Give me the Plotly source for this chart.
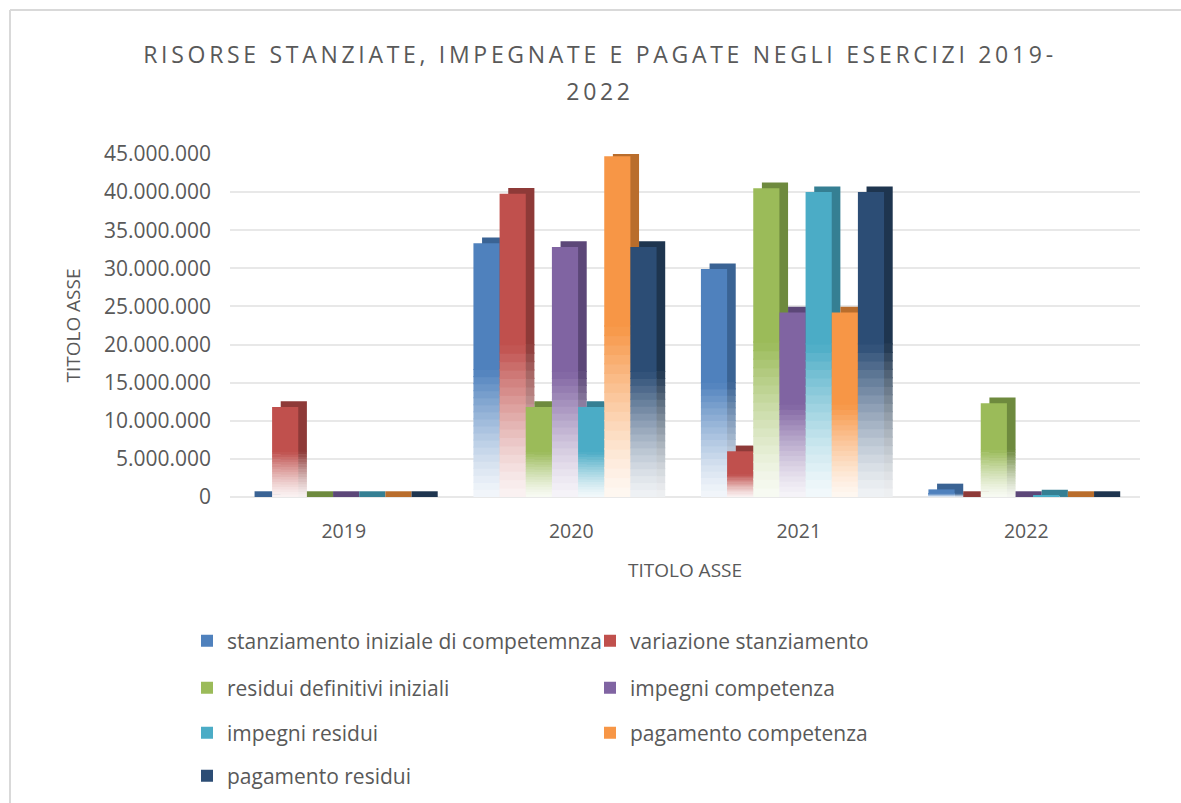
import plotly.graph_objects as go

# ---- data ----
years = ["2019", "2020", "2021", "2022"]
series_names = [
    "stanziamento iniziale di competemnza",
    "variazione stanziamento",
    "residui definitivi iniziali",
    "impegni competenza",
    "impegni residui",
    "pagamento competenza",
    "pagamento residui",
]
stanziamento_iniziale = [0, 33300000, 29900000, 1000000]
variazione_stanziamento = [11800000, 39800000, 6000000, 0]
residui_definitivi_iniziali = [0, 11800000, 40500000, 12300000]
impegni_competenza = [0, 32800000, 24200000, 0]
impegni_residui = [0, 11800000, 40000000, 200000]
pagamento_competenza = [0, 44700000, 24200000, 0]
pagamento_residui = [0, 32800000, 40000000, 0]
tick_values = [0, 5000000, 10000000, 15000000, 20000000, 25000000, 30000000, 35000000, 40000000, 45000000]
tick_labels = ["0", "5.000.000", "10.000.000", "15.000.000", "20.000.000",
               "25.000.000", "30.000.000", "35.000.000", "40.000.000", "45.000.000"]

values = [stanziamento_iniziale, variazione_stanziamento, residui_definitivi_iniziali,
          impegni_competenza, impegni_residui, pagamento_competenza, pagamento_residui]
colors = ["#4F81BD", "#C0504D", "#9BBB59", "#8064A2", "#4BACC6", "#F79646", "#2C4D75"]
side_colors = ["#3A6394", "#8E3A38", "#6E8A3E", "#5C4778", "#357F93", "#B96D2C", "#1E354F"]


def hex2rgb(h):
    h = h.lstrip("#")
    return tuple(int(h[i:i + 2], 16) for i in (0, 2, 4))


def blend(h, t):
    r, g, b = hex2rgb(h)
    return "rgb(%d,%d,%d)" % (round(255 + (r - 255) * t), round(255 + (g - 255) * t),
                              round(255 + (b - 255) * t))


# pixel geometry of the plot area
L, R, T, B = 230, 1140, 154, 497
PW, PH = R - L, B - T

# legend rows (two items per row, each row its own legend box)
legend_rows = [0, 0, 1, 1, 2, 2, 3]
row_px = [641, 688, 733, 776]
legend_ids = ["legend", "legend2", "legend3", "legend4"]

fig = go.Figure()

W = 0.115          # bar width (category units)
D = 0.038          # depth shift (category units)
DY = 750000        # depth shift (value units)
START = -0.43
NSEG = 18          # gradient segments in bottom part
FADE = 0.5


def ramp(k):
    return 0.07 + 0.93 * ((k + 0.5) / NSEG) ** 1.3


for i, (name, vals, col, scol) in enumerate(zip(series_names, values, colors, side_colors)):
    off = START + i * W
    lg = legend_ids[legend_rows[i]]
    # ---- back copy (gives side + top faces) ----
    fig.add_trace(go.Bar(
        x=years, y=[v + DY - FADE * v for v in vals],
        base=[FADE * v for v in vals], offset=off + D, width=W,
        marker=dict(color=scol, line=dict(width=0)), showlegend=False,
        legendgroup=name, legend=lg, hoverinfo="skip"))
    for k in range(NSEG):
        f0 = FADE * k / NSEG
        f1 = FADE * (k + 1) / NSEG
        fig.add_trace(go.Bar(
            x=years, y=[(f1 - f0) * v * 1.15 for v in vals], base=[f0 * v for v in vals],
            offset=off + D, width=W,
            marker=dict(color=blend(scol, ramp(k)), line=dict(width=0)), showlegend=False,
            legendgroup=name, legend=lg, hoverinfo="skip"))
    # ---- front face ----
    for k in range(NSEG):
        f0 = FADE * k / NSEG
        f1 = FADE * (k + 1) / NSEG
        fig.add_trace(go.Bar(
            x=years, y=[(f1 - f0) * v * 1.15 for v in vals], base=[f0 * v for v in vals],
            offset=off, width=W,
            marker=dict(color=blend(col, ramp(k)), line=dict(width=0)), showlegend=False,
            legendgroup=name, legend=lg, hoverinfo="skip"))
    fig.add_trace(go.Bar(
        x=years, y=[(1 - FADE) * v for v in vals], base=[FADE * v for v in vals],
        offset=off, width=W, name=name,
        marker=dict(color=col, line=dict(width=0)), showlegend=True,
        legendgroup=name, legend=lg))

FONT = "'Open Sans', sans-serif"
GREY = "#595959"

legend_common = dict(orientation="h", xanchor="left", yanchor="middle",
                     entrywidth=358, entrywidthmode="pixels", bgcolor="rgba(0,0,0,0)",
                     font=dict(size=21, color=GREY, family=FONT), traceorder="normal")
legend_layout = {}
for lid, py in zip(legend_ids, row_px):
    legend_layout[lid] = dict(legend_common, x=(187 - L) / PW, y=(B - py) / PH)

SP = "<span style='letter-spacing:3.7px;font-size:23px'>"
title_text = (SP + "RISORSE STANZIATE, IMPEGNATE E PAGATE NEGLI ESERCIZI 2019-</span><br>"
              + SP + "2022</span>")

fig.update_layout(
    width=1181, height=803,
    barmode="overlay",
    paper_bgcolor="white", plot_bgcolor="white",
    margin=dict(l=L, r=1181 - R, t=T, b=803 - B, autoexpand=False),
    font=dict(family=FONT, color=GREY),
    title=dict(text=title_text,
               x=600 / 1181, xanchor="center", y=1 - 63 / 803, yanchor="middle", xref="container",
               yref="container", font=dict(size=28.5, color=GREY, family=FONT)),
    xaxis=dict(type="category", showgrid=False, showline=False, zeroline=False,
               ticks="", tickfont=dict(size=19.5, color=GREY), ticklabelstandoff=20,
               title=dict(text="TITOLO ASSE", font=dict(size=19, color=GREY), standoff=21)),
    yaxis=dict(range=[0, 45000000], tickvals=tick_values, ticktext=tick_labels,
               showgrid=True, gridcolor="#E8E8E8", gridwidth=2, zeroline=True,
               zerolinecolor="#E8E8E8", zerolinewidth=2, showline=False, ticks="",
               tickfont=dict(size=21, color=GREY), ticklabelstandoff=18,
               title=dict(text="TITOLO ASSE", font=dict(size=19, color=GREY), standoff=18)),
    showlegend=True,
    **legend_layout,
)

# chart frame lines (light grey border, as in the reference crop)
fig.add_shape(type="line", xref="paper", yref="paper", x0=(10 - L) / PW, x1=(10 - L) / PW,
              y0=(B - 10) / PH, y1=(B - 803) / PH, line=dict(color="#D9D9D9", width=2))
fig.add_shape(type="line", xref="paper", yref="paper", x0=(10 - L) / PW, x1=(1181 - L) / PW,
              y0=(B - 10) / PH, y1=(B - 10) / PH, line=dict(color="#D9D9D9", width=2))

fig.write_html("out.html", config={"displayModeBar": False},
               post_script="document.body.style.margin='0px';")
